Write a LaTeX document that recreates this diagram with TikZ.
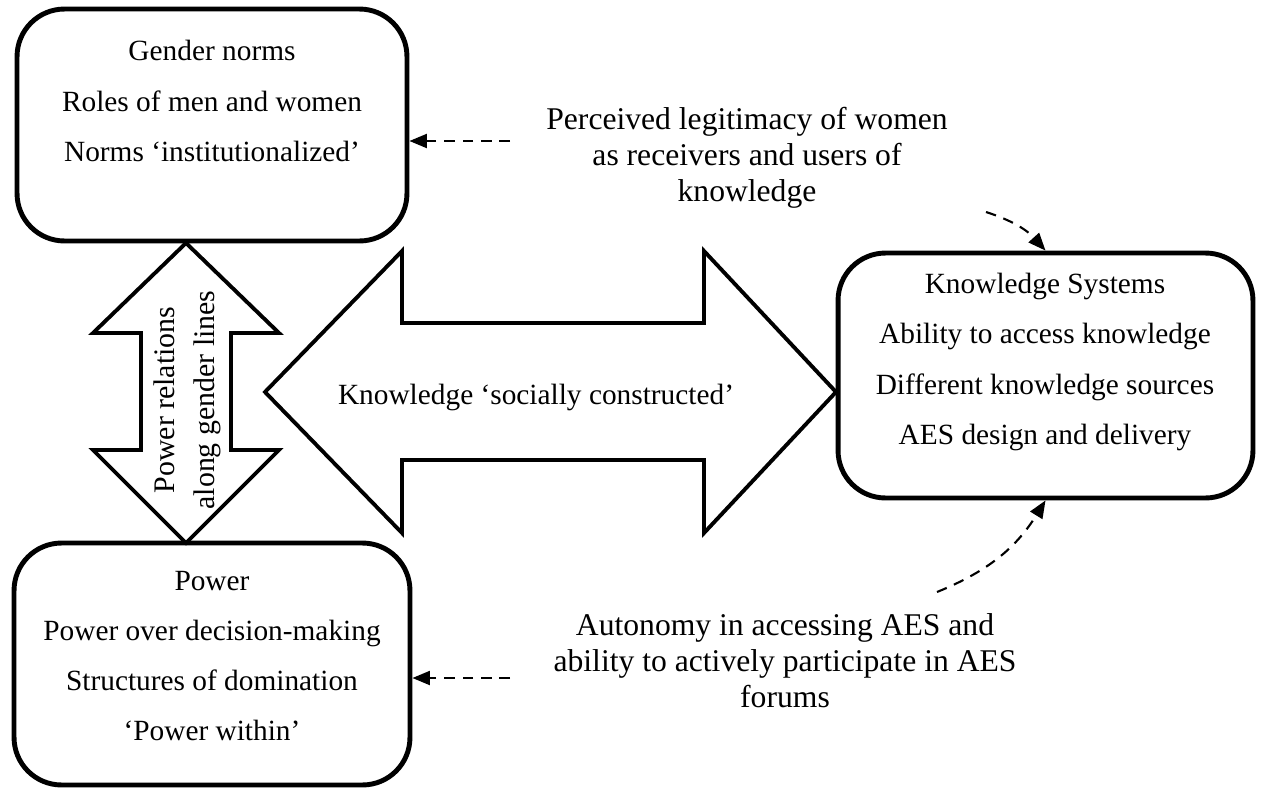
\documentclass[tikz,border=0pt]{standalone}
\usepackage{fontspec}
\setmainfont{Liberation Serif}
\usetikzlibrary{arrows.meta, positioning}

\begin{document}
\begin{tikzpicture}[
    x=0.02cm, y=-0.02cm,
    sysbox/.style={rectangle, rounded corners=0.95cm, draw, line width=2.8pt,
                   inner sep=0pt},
    boxtext/.style={align=center, font=\fontsize{16.7}{28.6}\selectfont, inner sep=0pt},
    lbl/.style={align=center, font=\fontsize{18}{20.5}\selectfont, inner sep=0pt},
    fatarrow/.style={draw, line width=2.2pt, line join=miter},
    dasharr/.style={-{Triangle[length=10pt, width=8pt]}, line width=1.2pt,
                    dash pattern=on 6pt off 4.5pt}
  ]
    \useasboundingbox (0,0) rectangle (1264,788);

    % block arrows
    \draw[fatarrow] (186,243) -- (279,333) -- (231,333) -- (231,450) -- (279,450)
        -- (186,543) -- (93,450) -- (141,450) -- (141,333) -- (93,333) -- cycle;
    \draw[fatarrow] (265,392) -- (402,251) -- (402,323) -- (704,323) -- (704,251)
        -- (836,392) -- (704,533) -- (704,460) -- (402,460) -- (402,533) -- cycle;

    % the three boxes
    \node[sysbox, minimum width=7.8cm, minimum height=4.64cm]  (gender) at (212,125)    {};
    \node[sysbox, minimum width=7.92cm, minimum height=4.84cm] (power)  at (212,664)    {};
    \node[sysbox, minimum width=8.3cm, minimum height=4.9cm]   (know)   at (1045.5,375.5) {};

    \node[boxtext] (gendertext) at (212,101) {Gender norms\\Roles of men and women\\Norms `institutionalized'};
    \node[boxtext] (powertext)  at (212,656) {Power\\Power over decision-making\\Structures of domination\\`Power within'};
    \node[boxtext] (knowtext)   at (1045,362) {Knowledge Systems\\Ability to access knowledge\\Different knowledge sources\\AES design and delivery};

    \node[boxtext, rotate=90, font=\fontsize{17}{22.7}\selectfont] (powrel) at (187,400)
        {Power relations\\along gender lines};
    \node[boxtext] (social) at (536,397) {Knowledge `socially constructed'};

    \node[lbl] (legit) at (747,158) {Perceived legitimacy of women\\as receivers and users of\\knowledge};
    \node[lbl] (auton) at (785,661) {Autonomy in accessing AES and\\ability to actively participate in AES\\forums};

    % dashed links
    \coordinate (legitend) at (510,141);
    \coordinate (legitcrv) at (986,212);
    \coordinate (autonend) at (510,678);
    \coordinate (autoncrv) at (937,592);

    \draw[dasharr] (legitend) -- (legitend -| gender.east);
    \draw[dasharr] (legitcrv) to[bend left=15] (know.north);
    \draw[dasharr] (autonend) -- (autonend -| power.east);
    \draw[dasharr] (autoncrv) to[bend right=18] (know.south);
\end{tikzpicture}
\end{document}
